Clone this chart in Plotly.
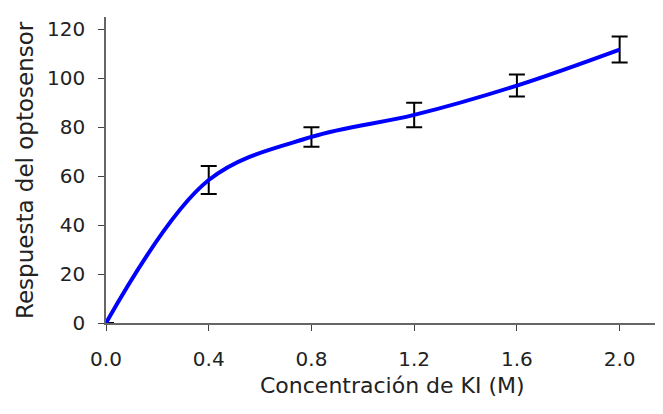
import plotly.graph_objects as go

conc = [0.0, 0.4, 0.8, 1.2, 1.6, 2.0]
respuesta = [0, 58.4, 76, 85, 97, 111.7]
error = [0, 5.7, 4, 5, 4.5, 5.3]
x_ticks = [0.0, 0.4, 0.8, 1.2, 1.6, 2.0]
x_tick_labels = ["0.0", "0.4", "0.8", "1.2", "1.6", "2.0"]
y_ticks = [0, 20, 40, 60, 80, 100, 120]
x_title = "Concentración de KI (M)"
y_title = "Respuesta del optosensor"

fig = go.Figure()
fig.add_trace(go.Scatter(
    x=conc, y=respuesta, mode="lines",
    line=dict(color="#0000FF", width=4, shape="spline", smoothing=1.0),
    error_y=dict(type="data", array=error, visible=True, color="black", thickness=2, width=8),
    cliponaxis=False, showlegend=False,
))

font = "DejaVu Sans, sans-serif"
fig.update_layout(
    width=663, height=414,
    margin=dict(l=98, r=0, t=9, b=99),
    paper_bgcolor="white", plot_bgcolor="white",
    font=dict(family=font, size=20, color="#222"),
    xaxis=dict(range=[0, 2.2], tickvals=x_ticks, ticktext=x_tick_labels,
               showline=True, linecolor="#666", linewidth=1.5, ticks="outside",
               ticklen=6, tickcolor="#444", showgrid=False, zeroline=False,
               automargin=False, ticklabelstandoff=11),
    yaxis=dict(range=[0, 125], tickvals=y_ticks, showline=True, linecolor="#666",
               linewidth=1.5, ticks="outside", ticklen=6, tickcolor="#444",
               showgrid=False, zeroline=False, automargin=False, ticklabelstandoff=9),
    annotations=[
        dict(text=x_title, xref="paper", yref="paper", x=(392 - 106) / 565, y=-0.205,
             xanchor="center", yanchor="middle", showarrow=False,
             font=dict(size=22)),
        dict(text=y_title, xref="paper", yref="paper", x=0, y=0.5, xshift=-81,
             xanchor="center", yanchor="middle", textangle=-90, showarrow=False,
             font=dict(size=23)),
    ],
)
fig.write_html("out.html")
